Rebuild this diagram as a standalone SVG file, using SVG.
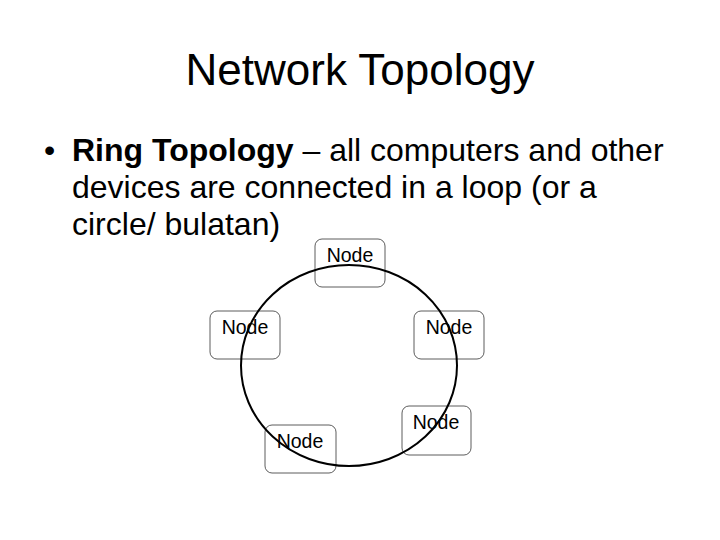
<svg xmlns="http://www.w3.org/2000/svg" width="720" height="540" viewBox="0 0 720 540">
<style>
text{font-family:"Liberation Sans",Arial,sans-serif;fill:#000}
.t{font-size:44px}
.b{font-size:32px}
.box{fill:#fff;stroke:#333;stroke-width:0.8}
.lbl{font-size:19.5px;text-anchor:middle}
</style>
<rect width="720" height="540" fill="#fff"/>
<text class="t" x="360" y="85" text-anchor="middle">Network Topology</text>
<text class="b" x="44" y="161">•</text>
<text class="b" x="72" y="161"><tspan font-weight="bold">Ring Topology</tspan> – all computers and other</text>
<text class="b" x="72" y="198">devices are connected in a loop (or a</text>
<text class="b" x="72" y="235">circle/ bulatan)</text>
<g id="node-top"><rect class="box" x="315" y="239" width="70" height="48" rx="7"/><text class="lbl" x="350" y="262">Node</text></g>
<g id="node-left"><rect class="box" x="210" y="311" width="70" height="48" rx="7"/><text class="lbl" x="245" y="334">Node</text></g>
<g id="node-right"><rect class="box" x="414" y="311" width="70" height="48" rx="7"/><text class="lbl" x="449" y="334">Node</text></g>
<g id="node-bottom-right"><rect class="box" x="402" y="406" width="69" height="49" rx="7"/><text class="lbl" x="436" y="429">Node</text></g>
<g id="node-bottom-left"><rect class="box" x="265" y="425" width="71" height="48" rx="7"/><text class="lbl" x="300" y="448">Node</text></g>
<g id="connectors"><ellipse cx="349" cy="365.5" rx="108" ry="100.5" fill="none" stroke="#000" stroke-width="2"/></g>
</svg>
